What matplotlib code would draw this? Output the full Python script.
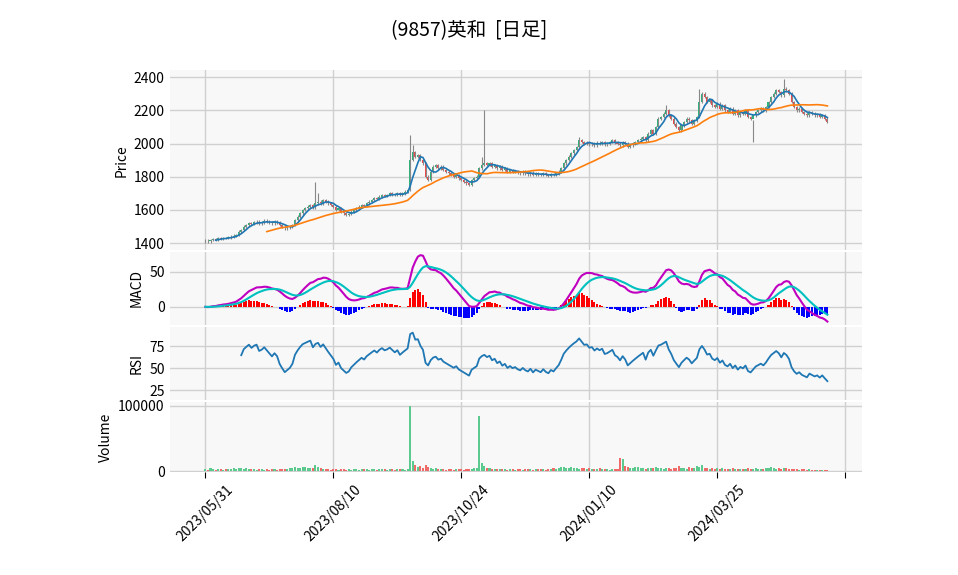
import matplotlib
matplotlib.use("Agg")
import matplotlib.pyplot as plt
import numpy as np
import pandas as pd

plt.rcParams['font.family'] = ['Noto Sans CJK JP', 'DejaVu Sans']

title = "(9857)英和  [日足]"

closes = [
    1415,1410,1420,1425,1420,1430,1428,1432,1430,1435,
    1440,1445,1450,1470,1480,1500,1510,1520,1515,1525,
    1530,1520,1525,1535,1530,1525,1520,1530,1525,1510,
    1500,1490,1495,1500,1510,1540,1560,1580,1600,1610,
    1620,1630,1615,1640,1650,1640,1660,1650,1640,1630,
    1620,1600,1610,1590,1580,1570,1575,1590,1600,1610,
    1620,1630,1625,1640,1650,1660,1670,1665,1680,1690,
    1685,1690,1700,1695,1690,1700,1690,1700,1710,1720,
    1900,1950,1920,1930,1900,1880,1800,1780,1830,1860,
    1870,1850,1860,1840,1830,1820,1810,1800,1810,1790,
    1780,1770,1760,1750,1780,1790,1800,1850,1870,1880,
    1870,1880,1860,1870,1850,1860,1840,1850,1830,1840,
    1830,1835,1825,1820,1830,1820,1815,1825,1810,1820,
    1815,1810,1820,1810,1805,1815,1810,1820,1830,1850,
    1880,1900,1920,1940,1960,1980,2020,2010,2000,2005,
    1995,2000,1990,2005,2000,2010,1995,2000,2010,2020,
    2005,2000,1990,2010,2000,1980,1990,2000,2010,2020,
    2030,2040,2020,2060,2080,2060,2100,2150,2160,2180,
    2200,2170,2150,2120,2100,2080,2110,2130,2150,2140,
    2120,2140,2160,2250,2300,2280,2250,2260,2230,2220,
    2240,2210,2230,2200,2190,2210,2180,2200,2170,2190,
    2180,2200,2160,2150,2170,2190,2200,2210,2200,2220,
    2250,2280,2300,2320,2310,2290,2330,2320,2300,2250,
    2220,2200,2210,2190,2180,2170,2190,2180,2170,2175,
    2160,2170,2150,2130,
]

# occasional long upper wicks (bar index -> high)
spike_highs = {43: 1770, 44: 1700, 80: 2050, 81: 1990, 109: 2200, 108: 1920,
               146: 2040, 180: 2230, 193: 2330, 226: 2390, 214: 2010}

volumes = [
    3000,2000,4000,2500,2000,3000,2500,2000,3000,2500,
    3000,4000,3500,5000,4000,3000,4500,3000,2500,3000,
    2000,3000,2500,2000,3000,2000,2500,3000,2000,2500,
    3000,2500,3000,4000,5000,6000,4000,5000,7000,6000,
    5000,4000,5000,10000,6000,4000,3000,2500,3000,2000,
    3000,2500,2000,2500,3000,2000,2500,2000,3000,2500,
    2000,2500,3000,2500,2000,2500,3000,2000,2500,3000,
    2500,2000,3000,2500,2000,2500,3000,2500,2000,3000,
    100000,15000,9000,6000,8000,5000,9000,6000,4000,3000,
    4000,3000,2500,3000,2000,2500,3000,2000,2500,3000,
    2500,2000,3000,2500,3000,4000,5000,85000,12000,8000,
    5000,4000,3000,3500,3000,2500,3000,2500,2000,3000,
    2500,2000,3000,2500,2000,3000,2500,3000,2000,2500,
    3000,2500,3000,2000,2500,3000,4000,3000,5000,6000,
    7000,5000,4000,6000,5000,4000,3000,5000,4000,3000,
    4000,3000,2500,3000,4000,3000,2500,3000,2000,2500,
    3000,2500,20000,18000,8000,6000,4000,5000,7000,6000,
    4000,5000,3000,4000,5000,4000,6000,5000,4000,3000,
    5000,4000,3000,4000,5000,8000,5000,4000,3000,6000,
    4000,5000,8000,7000,10000,5000,4000,3000,4000,3000,
    5000,3000,4000,3000,2500,3000,4000,3000,2500,3000,
    2500,3000,4000,3000,2500,5000,3000,2500,3000,4000,
    5000,6000,4000,3000,4000,3000,5000,4000,3000,2500,
    3000,2500,2000,3000,2500,2000,2500,2000,1500,2000,
    2000,1500,2000,1500,
]

tick_labels = ["2023/05/31", "2023/08/10", "2023/10/24", "2024/01/10", "2024/03/25", ""]
tick_pos = [0, 50, 100, 150, 200, 250]

c = pd.Series(closes, dtype=float)
o = c.shift(1).fillna(c.iloc[0] - 5)
hi = np.maximum(o, c) + 8
lo = np.minimum(o, c) - 8
for k, v in spike_highs.items():
    hi[k] = v
ma_short = c.rolling(5).mean()
ma_long = c.rolling(25).mean()
macd = c.ewm(span=12, adjust=False).mean() - c.ewm(span=26, adjust=False).mean()
signal = macd.ewm(span=9, adjust=False).mean()
hist = macd - signal
delta = c.diff()
up = delta.clip(lower=0).ewm(alpha=1/14, adjust=False).mean()
dn = (-delta.clip(upper=0)).ewm(alpha=1/14, adjust=False).mean()
rsi = (100 - 100 / (1 + up / dn)).where(c.index >= 14)

x = np.arange(len(c))
up_mask = c >= o
green, red = "#2cb37a", "#f0474a"

fig = plt.figure(figsize=(9.58, 5.75), dpi=100)
L, W = 0.177, 0.723
ax1 = fig.add_axes([L, 0.565, W, 0.313])
ax2 = fig.add_axes([L, 0.435, W, 0.127], sharex=ax1)
ax3 = fig.add_axes([L, 0.304, W, 0.127], sharex=ax1)
ax4 = fig.add_axes([L, 0.179, W, 0.122], sharex=ax1)

for ax in (ax1, ax2, ax3, ax4):
    ax.set_facecolor("#f8f8f8")
    ax.grid(True, color="#d0d0d0", linewidth=1)
    ax.set_axisbelow(True)
    for s in ax.spines.values():
        s.set_visible(False)
    ax.tick_params(length=0, labelsize=10)

ax1.vlines(x, lo, hi, color="#888888", linewidth=0.8)
ax1.bar(x, (c - o).abs().clip(lower=3), bottom=np.minimum(o, c), width=0.8,
        color=np.where(up_mask, green, red))
ax1.plot(x, ma_short, color="#1f77b4", linewidth=1.2)
ax1.plot(x, ma_long, color="#ff7f0e", linewidth=1.2)
ax1.set_ylim(1358, 2442)
ax1.set_yticks([1400, 1600, 1800, 2000, 2200, 2400])
ax1.set_ylabel("Price")

ax2.bar(x, hist, width=0.8, color=np.where(hist >= 0, "#ff0000", "#0000ff"))
ax2.plot(x, macd, color="#c000c0", linewidth=1.5)
ax2.plot(x, signal, color="#00c0c0", linewidth=1.5)
ax2.set_yticks([0, 50])
ax2.set_ylabel("MACD")

ax3.plot(x, rsi, color="#1f77b4", linewidth=1.3)
ax3.set_ylim(13.6, 96.6)
ax3.set_yticks([25, 50, 75])
ax3.set_ylabel("RSI")

ax4.bar(x, volumes, width=0.8, color=np.where(up_mask, "#5cc98f", "#f06a6a"))
ax4.set_ylim(-1500, 106000)
ax4.set_yticks([0, 100000])
ax4.set_ylabel("Volume")

ax1.set_xlim(-14, 256.6)
ax4.set_xticks(tick_pos)
ax4.set_xticklabels(tick_labels, rotation=45, ha="center")
ax4.tick_params(axis="x", length=4)
for ax in (ax1, ax2, ax3):
    plt.setp(ax.get_xticklabels(), visible=False)

fig.suptitle(title, x=0.49, y=0.965, fontsize=14)
fig.savefig("out.png", dpi=100)
